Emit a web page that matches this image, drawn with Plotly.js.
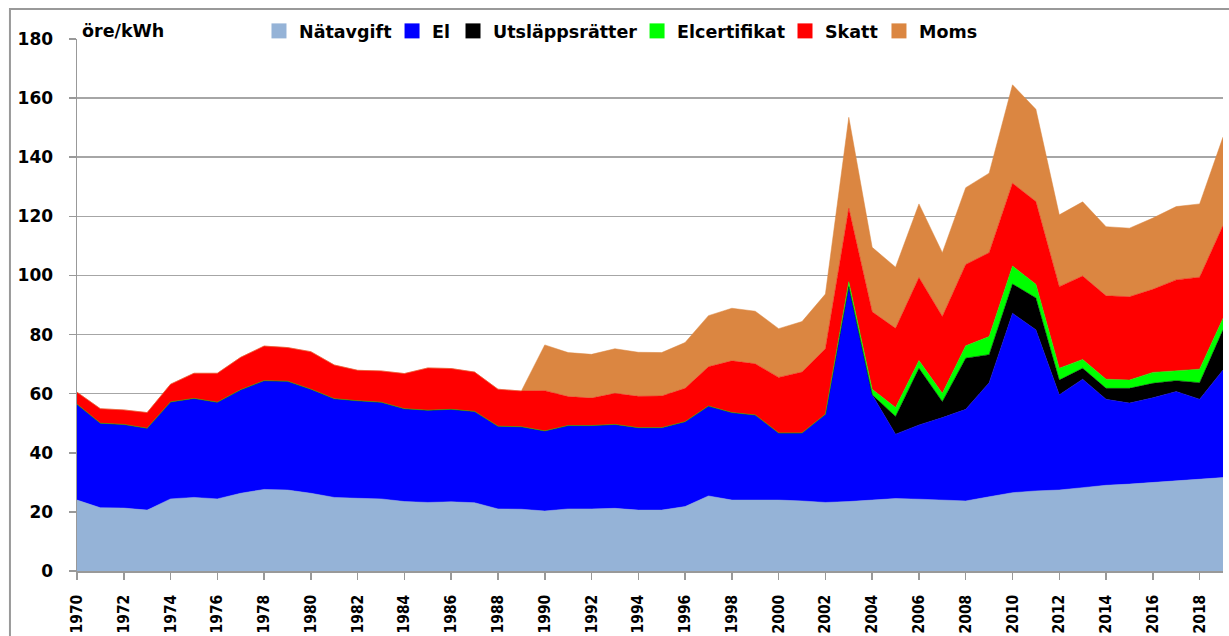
<!DOCTYPE html>
<html>
<head>
<meta charset="utf-8">
<script src="https://cdn.plot.ly/plotly-3.0.1.min.js"></script>
<style>
  html, body { margin: 0; padding: 0; background: #fff; }
  #chart { width: 1229px; height: 636px; }
</style>
</head>
<body>
<div id="chart"></div>
<script>
const years = [];
for (let y = 1970; y <= 2019; y++) years.push(y);

const natavgift = [24.0,21.4,21.3,20.6,24.4,24.9,24.4,26.3,27.6,27.4,
  26.3,24.9,24.6,24.4,23.5,23.2,23.4,23.1,21.0,20.9,
  20.3,21.0,21.0,21.2,20.6,20.6,21.8,25.4,24.0,24.0,
  24.0,23.7,23.2,23.5,24.0,24.5,24.3,24.0,23.7,25.1,
  26.5,27.1,27.4,28.2,29.0,29.4,29.9,30.6,31.1,31.6];

const el = [32.4,28.6,28.3,27.7,32.8,33.5,32.7,35.0,36.8,36.8,
  35.2,33.4,33.0,32.7,31.4,31.2,31.3,30.9,28.0,27.9,
  27.1,28.2,28.2,28.4,27.9,27.9,28.7,30.4,29.6,28.8,
  22.7,23.0,29.8,72.7,35.6,21.8,25.1,27.9,31.0,38.6,
  60.7,54.5,32.2,36.7,29.1,27.4,28.7,30.1,27.0,36.4];

const utslappsratter = [0,0,0,0,0,0,0,0,0,0,
  0,0,0,0,0,0,0,0,0,0,
  0,0,0,0,0,0,0,0,0,0,
  0,0,0,0,0,6.0,19.2,5.4,17.3,9.5,
  9.9,10.8,5.0,3.7,3.7,5.0,4.9,3.7,5.6,13.6];

const elcertifikat = [0,0,0,0,0,0,0,0,0,0,
  0,0,0,0,0,0,0,0,0,0,
  0,0,0,0,0,0,0,0,0,0,
  0,0,0,1.7,1.9,3.0,2.6,2.8,4.2,6.1,
  6.1,4.6,4.0,3.0,3.1,2.8,3.7,3.4,4.6,3.9];

const skatt = [4.1,4.9,4.9,5.3,6.0,8.5,9.8,11.0,11.7,11.4,
  12.7,11.4,10.3,10.6,11.9,14.3,13.8,13.3,12.5,12.1,
  13.6,9.8,9.3,10.5,10.6,10.7,11.3,13.3,17.5,17.3,
  18.8,20.6,22.2,24.8,26.2,26.8,28.1,26.0,27.5,28.4,
  28.0,28.0,27.6,28.2,28.2,28.2,28.1,30.7,31.1,31.4];

const moms = [0,0,0,0,0,0,0,0,0,0,
  0,0,0,0,0,0,0,0,0,0,
  15.5,14.9,14.8,15.1,14.9,14.7,15.5,17.3,17.8,17.8,
  16.5,17.1,18.5,30.8,21.8,20.7,24.9,21.6,26.0,26.9,
  33.3,31.2,24.3,25.1,23.4,23.2,24.1,24.8,24.8,29.9];

const seriesNames = ["Nätavgift","El","Utsläppsrätter","Elcertifikat","Skatt","Moms"];
const seriesData = [natavgift, el, utslappsratter, elcertifikat, skatt, moms];
const seriesColors = ["#95B3D7","#0000FF","#000000","#00FF00","#FF0000","#DB8641"];
// left edge (paper fraction) of each one-item legend
const legendX = [0.1588, 0.2749, 0.3281, 0.4887, 0.6178, 0.6998];

const xTickVals = [];
for (let y = 1970; y <= 2018; y += 2) xTickVals.push(y);
const xTickText = xTickVals.map(String);

const traces = [];
seriesData.forEach((vals, i) => {
  traces.push({
    type: "scatter", mode: "lines", x: years, y: vals,
    stackgroup: "one", name: seriesNames[i],
    line: {width: 0.5, color: seriesColors[i], shape: "linear"},
    fillcolor: seriesColors[i],
    showlegend: false, legendgroup: seriesNames[i], hoverinfo: "x+y+name"
  });
});
const legendFont = {family: "DejaVu Sans, Verdana, sans-serif", size: 17.5, color: "#000", weight: "bold"};
const layout = {
  width: 1229, height: 636,
  margin: {l: 77, r: 6, t: 39, b: 65, pad: 0},
  paper_bgcolor: "#ffffff", plot_bgcolor: "#ffffff",
  font: {family: "DejaVu Sans, Verdana, sans-serif", color: "#000"},
  showlegend: true,
  xaxis: {
    range: [1970, 2019], tickmode: "array", tickvals: xTickVals, ticktext: xTickText,
    tickangle: -90, ticks: "outside", ticklen: 7, tickcolor: "#999", tickwidth: 1.5,
    showline: true, linecolor: "#999", linewidth: 1.5, showgrid: false, zeroline: false,
    ticklabelstandoff: 9,
    tickfont: {family: "DejaVu Sans Condensed, DejaVu Sans, sans-serif", size: 15.5, color: "#000", weight: "bold"}
  },
  yaxis: {
    range: [0, 180], dtick: 20, tick0: 0, ticks: "outside", ticklen: 7, tickcolor: "#999", tickwidth: 1.5,
    showline: true, linecolor: "#999", linewidth: 1.5,
    showgrid: true, gridcolor: "#A6A6A6", gridwidth: 1.5, zeroline: false,
    ticklabelstandoff: 12,
    tickfont: {family: "DejaVu Sans, Verdana, sans-serif", size: 17, color: "#000", weight: "bold"}
  },
  annotations: [{
    xref: "paper", yref: "paper", x: 0.003, y: 1.015, xanchor: "left", yanchor: "middle",
    text: "öre/kWh", showarrow: false,
    font: {family: "DejaVu Sans, Verdana, sans-serif", size: 17.5, color: "#000", weight: "bold"}
  }],
  shapes: [{
    type: "rect", xref: "paper", yref: "paper",
    x0: -0.0585, x1: 1.2, y0: -0.2, y1: 1.0564,
    line: {color: "#999", width: 2}, fillcolor: "rgba(0,0,0,0)", layer: "below"
  }]
};
// legend proxies with square swatches, one legend per item for exact placement
seriesNames.forEach((n, i) => {
  const key = i === 0 ? "legend" : "legend" + (i + 1);
  traces.push({
    type: "scatter", mode: "markers", x: [null], y: [null], name: n,
    legendgroup: n, legend: key,
    marker: {symbol: "square", size: 15, color: seriesColors[i]},
    showlegend: true
  });
  layout[key] = {
    orientation: "h", x: legendX[i], xanchor: "left", y: 1.015, yanchor: "middle",
    font: legendFont, bgcolor: "rgba(0,0,0,0)", itemclick: false
  };
});

Plotly.newPlot("chart", traces, layout, {displayModeBar: false, staticPlot: true});
</script>
</body>
</html>
